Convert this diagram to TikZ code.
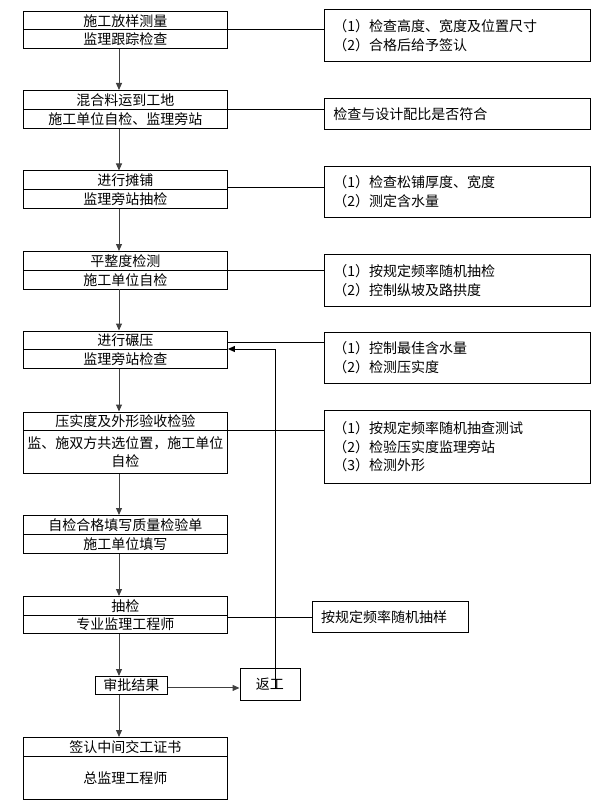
\documentclass[tikz,border=0pt]{standalone}
\usepackage{fontspec}
\setmainfont{Noto Sans CJK SC}
\usetikzlibrary{arrows.meta,calc}
\begin{document}
\begin{tikzpicture}[x=1pt,y=-1pt,
  lb/.style={draw=black,line width=0.9pt,minimum width=204pt,inner sep=0pt,anchor=north west,font=\fontsize{14}{18}\selectfont,align=center},
  rb/.style={draw=black,line width=0.9pt,inner xsep=9pt,inner ysep=0pt,anchor=north west,font=\fontsize{14}{18.5}\selectfont,align=left},
  ln/.style={line width=0.9pt,black},
  arr/.style={line width=1pt,black!75,-{Triangle[length=7pt,width=6pt]}}]
\useasboundingbox (0,0) rectangle (605,802);
\coordinate (ax) at (119,0);
% left column
\node[lb,minimum height=18.5pt] (b1t) at (23,11) {施工放样测量};
\node[lb,minimum height=18.5pt] (b1b) at (23,29.5) {监理跟踪检查};
\node[lb,minimum height=19pt] (b2t) at (23,90) {混合料运到工地};
\node[lb,minimum height=19pt] (b2b) at (23,109) {施工单位自检、监理旁站};
\node[lb,minimum height=18.5pt] (b3t) at (23,170.5) {进行摊铺};
\node[lb,minimum height=19pt] (b3b) at (23,189) {监理旁站抽检};
\node[lb,minimum height=19pt] (b4t) at (23,251) {平整度检测};
\node[lb,minimum height=18.5pt] (b4b) at (23,270) {施工单位自检};
\node[lb,minimum height=18.5pt] (b5t) at (23,330.5) {进行碾压};
\node[lb,minimum height=19pt] (b5b) at (23,349) {监理旁站检查};
\node[lb,minimum height=18.5pt] (b6t) at (23,411.5) {压实度及外形验收检验};
\node[lb,minimum height=43pt] (b6b) at (23,430) {监、施双方共选位置，施工单位\\自检};
\node[lb,minimum height=19pt] (b7t) at (23,515) {自检合格填写质量检验单};
\node[lb,minimum height=19pt] (b7b) at (23,534) {施工单位填写};
\node[lb,minimum height=18.5pt] (b8t) at (23,596) {抽检};
\node[lb,minimum height=18.5pt] (b8b) at (23,614.5) {专业监理工程师};
\node[lb,minimum width=72pt,minimum height=18pt] (sp) at (95,676) {审批结果};
\node[lb,minimum width=60pt,minimum height=32pt] (fg) at (239.5,668) {返工};
\node[lb,minimum height=19pt] (b9t) at (23,737) {签认中间交工证书};
\node[lb,minimum height=43pt] (b9b) at (23,756) {总监理工程师};
% right column
\node[rb,text width=247.5pt,minimum height=51.7pt] (r1) at (324,9.3) {（1）检查高度、宽度及位置尺寸\\（2）合格后给予签认};
\node[rb,text width=247.5pt,minimum height=31pt] (r2) at (324,98) {检查与设计配比是否符合};
\node[rb,text width=247.5pt,minimum height=51.3pt] (r3) at (324,165.7) {（1）检查松铺厚度、宽度\\（2）测定含水量};
\node[rb,text width=247.5pt,minimum height=52pt] (r4) at (324,254) {（1）按规定频率随机抽检\\（2）控制纵坡及路拱度};
\node[rb,text width=247.5pt,minimum height=51pt] (r5) at (324,331.7) {（1）控制最佳含水量\\（2）检测压实度};
\node[rb,text width=247.5pt,minimum height=73pt] (r6) at (324,410) {（1）按规定频率随机抽查测试\\（2）检验压实度监理旁站\\（3）检测外形};
\node[rb,text width=138.4pt,minimum height=31pt] (r8) at (311.6,601) {按规定频率随机抽样};
% vertical arrows
\draw[arr] (b1b.south -| ax) -- (b2t.north -| ax);
\draw[arr] (b2b.south -| ax) -- (b3t.north -| ax);
\draw[arr] (b3b.south -| ax) -- (b4t.north -| ax);
\draw[arr] (b4b.south -| ax) -- (b5t.north -| ax);
\draw[arr] (b5b.south -| ax) -- (b6t.north -| ax);
\draw[arr] (b6b.south -| ax) -- (b7t.north -| ax);
\draw[arr] (b7b.south -| ax) -- (b8t.north -| ax);
\draw[arr] (b8b.south -| ax) -- (sp.north -| ax);
\draw[arr] (sp.south -| ax) -- (b9t.north -| ax);
% horizontal links
\draw[ln] (b1b.north east) -- (b1b.north east -| r1.west);
\draw[ln] (b2b.north east) -- (b2b.north east -| r2.west);
\draw[ln] ([yshift=2pt]b3b.north east) -- ([yshift=2pt]b3b.north east -| r3.west);
\draw[ln] (b4b.north east) -- (b4b.north east -| r4.west);
\draw[ln] ([yshift=-2pt]b5t.east) -- ([yshift=-2pt]b5t.east -| r5.west);
\draw[ln] (b6b.north east) -- (b6b.north east -| r6.west);
\draw[ln] ([yshift=-3pt]b8b.north east) -- ([yshift=-3pt]b8b.north east -| r8.west);
\draw[arr] ([yshift=-2.5pt]sp.east) -- ([yshift=-2.5pt]sp.east -| fg.west);
% return line
\coordinate (rt) at ($(fg.center)+(6,4)$);
\draw[arr,black] (rt) |- (b5b.north east);
\end{tikzpicture}
\end{document}
